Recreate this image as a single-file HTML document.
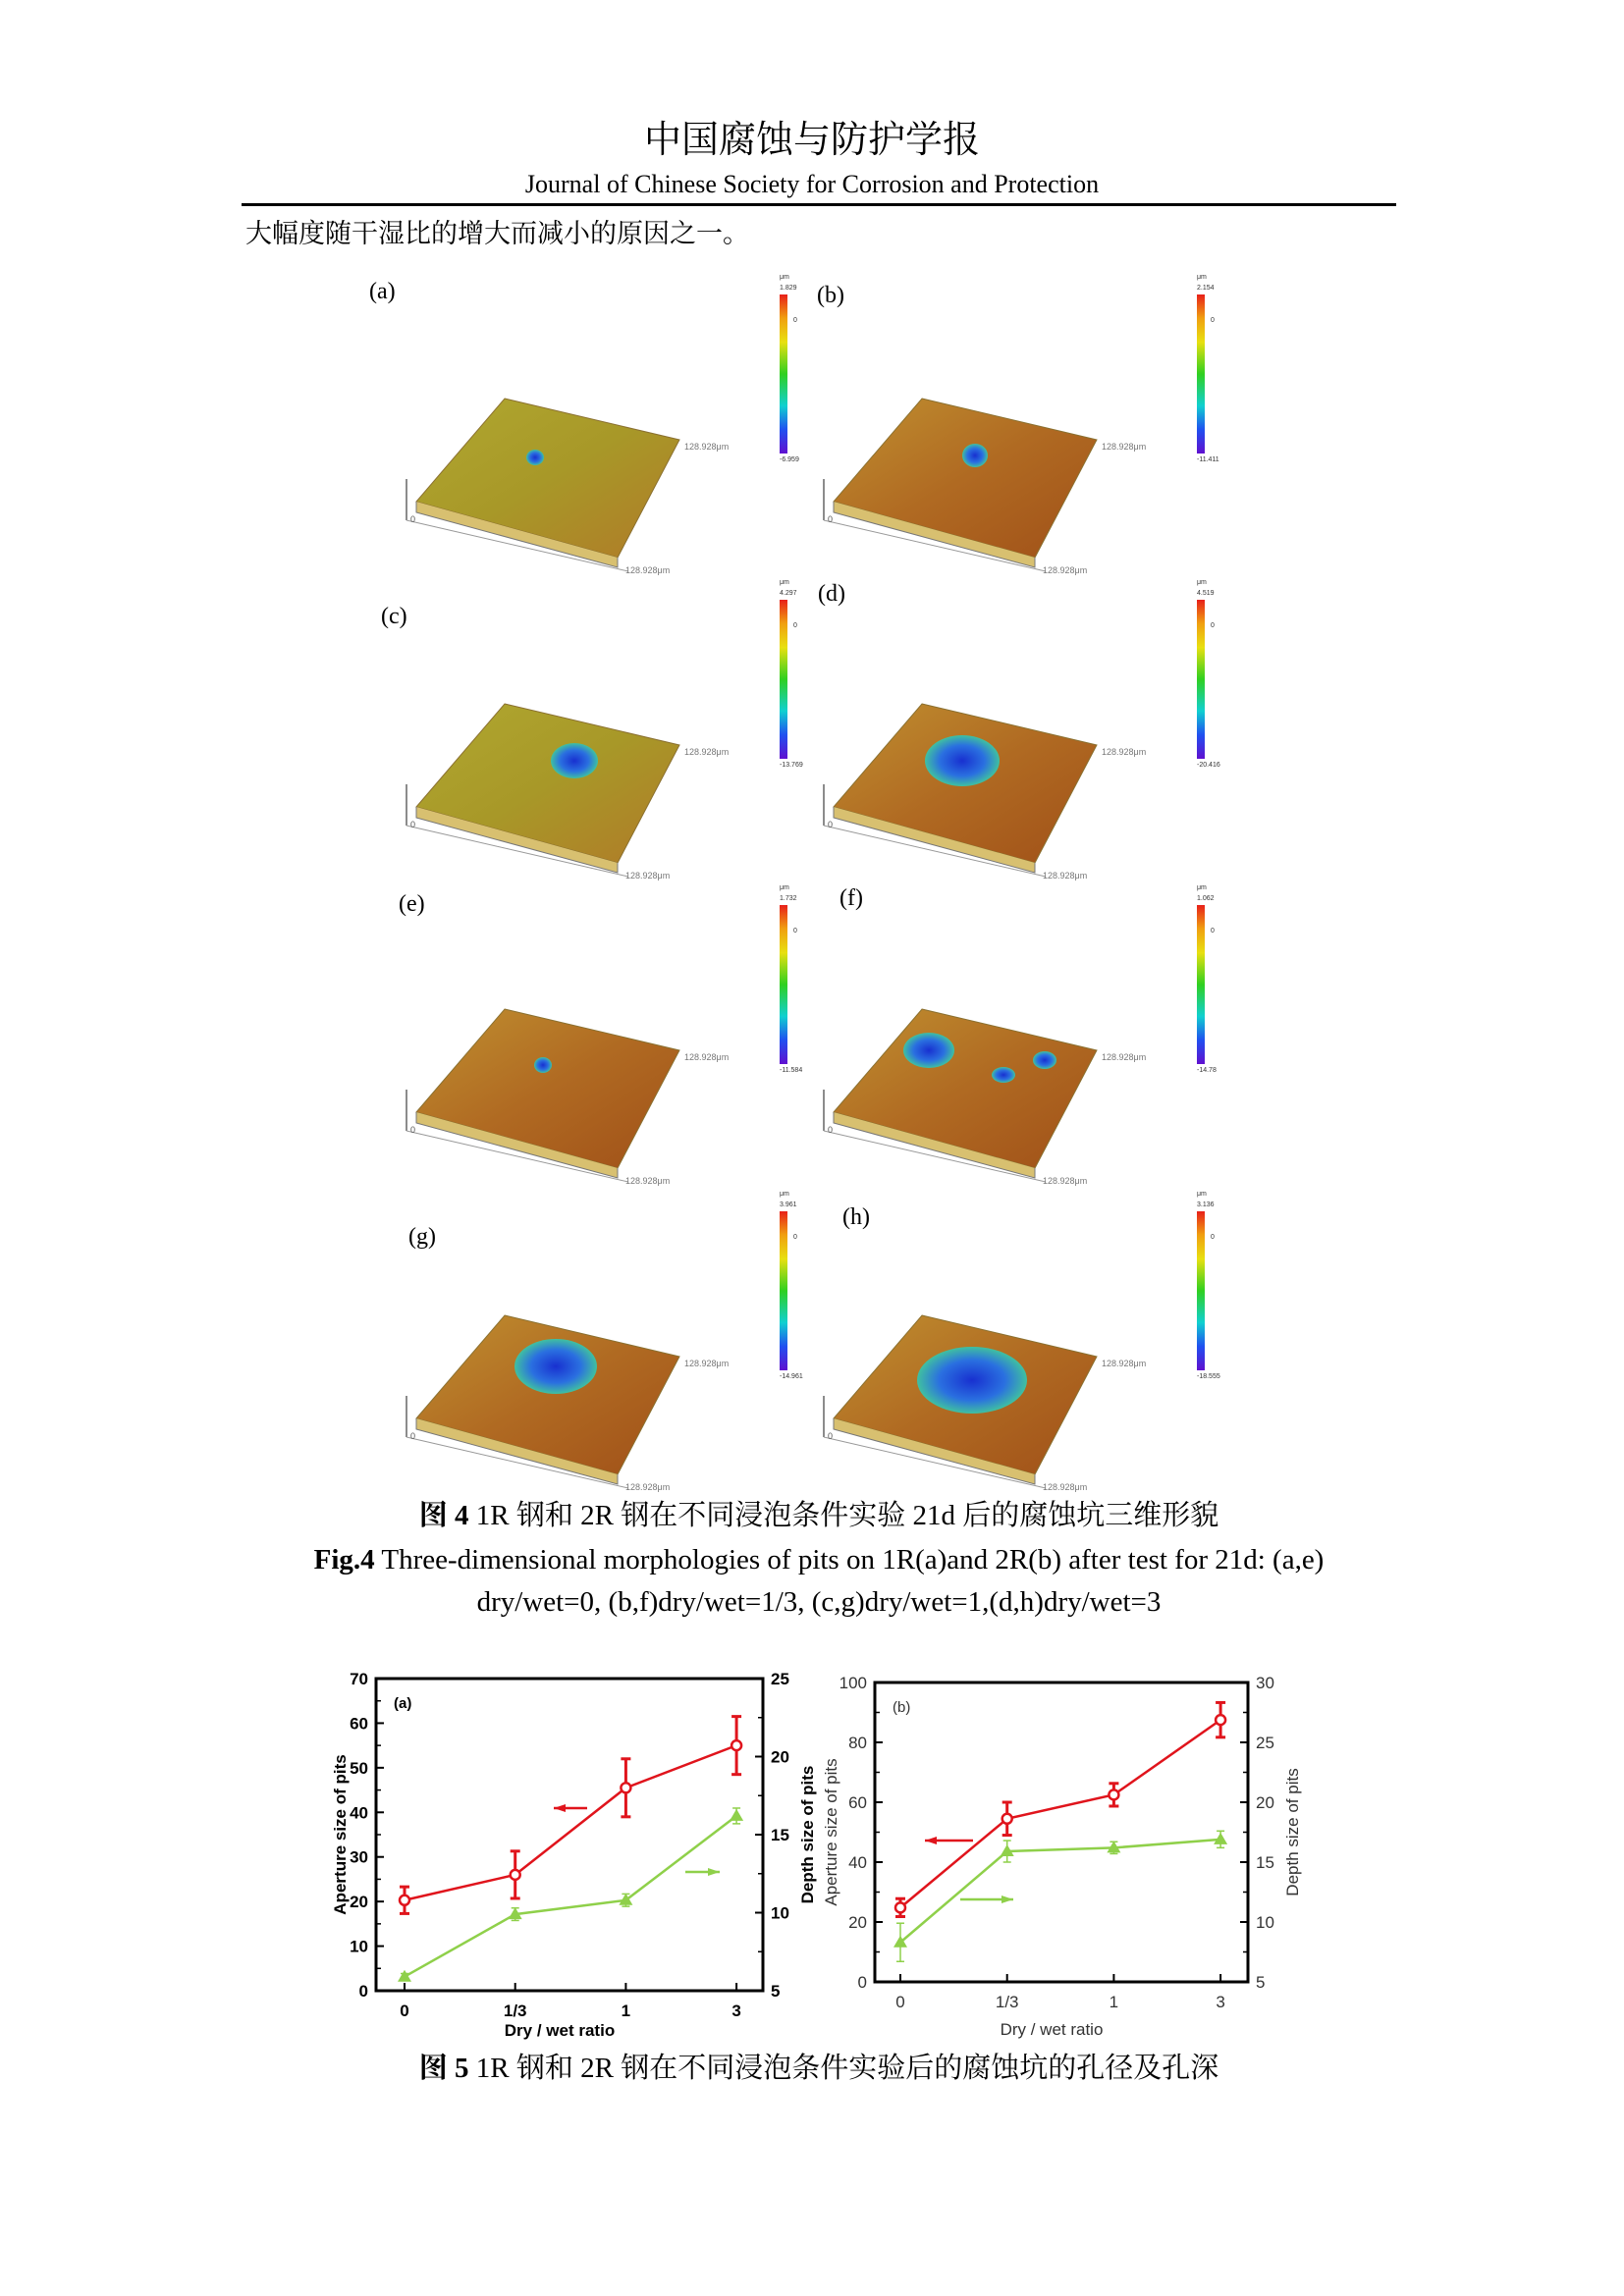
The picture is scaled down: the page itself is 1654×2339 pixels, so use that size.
<!DOCTYPE html>
<html><head><meta charset="utf-8">
<style>
html,body{margin:0;padding:0;background:#fff;}
svg{display:block;}
.serif{font-family:"Liberation Serif","Noto Serif CJK SC",serif;}
.sans{font-family:"Liberation Sans",sans-serif;}
</style></head>
<body>
<svg id="page" width="1654" height="2339" viewBox="0 0 1654 2339" xmlns="http://www.w3.org/2000/svg">
<defs>
<linearGradient id="cbar" x1="0" y1="0" x2="0" y2="1">
<stop offset="0" stop-color="#e8201a"/><stop offset="0.15" stop-color="#f0a010"/><stop offset="0.3" stop-color="#e8e010"/><stop offset="0.5" stop-color="#30d020"/><stop offset="0.7" stop-color="#10d0d0"/><stop offset="0.85" stop-color="#2050f0"/><stop offset="1" stop-color="#6010d0"/>
</linearGradient>
<linearGradient id="surfY" x1="0" y1="0" x2="1" y2="1">
<stop offset="0" stop-color="#b0a830"/><stop offset="0.5" stop-color="#a89828"/><stop offset="1" stop-color="#b07a28"/>
</linearGradient>
<linearGradient id="surfO" x1="0" y1="0" x2="1" y2="1">
<stop offset="0" stop-color="#c09030"/><stop offset="0.5" stop-color="#b06a22"/><stop offset="1" stop-color="#a05018"/>
</linearGradient>
<radialGradient id="pit"><stop offset="0" stop-color="#1830d0"/><stop offset="0.6" stop-color="#2a70e0"/><stop offset="1" stop-color="#40c0a0"/></radialGradient>
</defs>

<text class="serif" x="827" y="155" font-size="38" text-anchor="middle">中国腐蚀与防护学报</text>
<text class="serif" x="827" y="196" font-size="26" text-anchor="middle">Journal of Chinese Society for Corrosion and Protection</text>
<rect x="246" y="207" width="1176" height="3" fill="#000"/>
<text class="serif" x="250" y="247" font-size="27">大幅度随干湿比的增大而减小的原因之一。</text>

<g id="panels"></g>

<text class="serif" x="834" y="1553" font-size="29" text-anchor="middle"><tspan font-weight="bold">图 4</tspan> 1R 钢和 2R 钢在不同浸泡条件实验 21d 后的腐蚀坑三维形貌</text>
<text class="serif" x="834" y="1598" font-size="29" text-anchor="middle"><tspan font-weight="bold">Fig.4</tspan> Three-dimensional morphologies of pits on 1R(a)and 2R(b) after test for 21d: (a,e)</text>
<text class="serif" x="834" y="1641" font-size="29" text-anchor="middle">dry/wet=0, (b,f)dry/wet=1/3, (c,g)dry/wet=1,(d,h)dry/wet=3</text>

<g id="chartA"></g>
<g id="chartB"></g>

<text class="serif" x="834" y="2116" font-size="29" text-anchor="middle"><tspan font-weight="bold">图 5</tspan> 1R 钢和 2R 钢在不同浸泡条件实验后的腐蚀坑的孔径及孔深</text>
</svg>
<script>
const NS="http://www.w3.org/2000/svg";
function mk(parent,tag,attrs,text){const e=document.createElementNS(NS,tag);for(const k in attrs)e.setAttribute(k,attrs[k]);if(text!==undefined)e.textContent=text;parent.appendChild(e);return e;}

const panelLabels=["(a)","(b)","(c)","(d)","(e)","(f)","(g)","(h)"];
const cbTop=["1.829","2.154","4.297","4.519","1.732","1.062","3.961","3.136"];
const cbBot=["-6.959","-11.411","-13.769","-20.416","-11.584","-14.78","-14.961","-18.555"];
const panelsG=document.getElementById('panels');
const rowDY=[0,311,622,934];
const labPos=[[376,304],[832,308],[388,635],[833,612],[406,928],[855,922],[416,1267],[858,1247]];
const pits=[[[545,466,9,8]],[[993,464,13,12]],[[585,775,24,18]],[[980,775,38,26]],[[553,1085,9,8]],[[946,1070,26,18],[1064,1080,12,9],[1022,1095,12,8]],[[566,1392,42,28]],[[990,1406,56,34]]];
for(let i=0;i<8;i++){
  const col=i%2,row=Math.floor(i/2);
  const dx=col*425,dy=rowDY[row];
  const g=mk(panelsG,'g',{});
  
  
  const lab=mk(g,'text',{x:labPos[i][0],y:labPos[i][1],'font-size':24,class:'serif'},panelLabels[i]);
  
  
  const fill=(i===0||i===2)?'url(#surfY)':'url(#surfO)';
  const pts=[[514,406],[692,448],[629,568],[424,511]].map(p=>(p[0]+dx)+','+(p[1]+dy)).join(' ');
  mk(g,'polygon',{points:pts,fill:fill,stroke:'#8a7030','stroke-width':1});
  mk(g,'polyline',{points:`${424+dx},${511+dy} ${424+dx},${522+dy} ${629+dx},${578+dy} ${629+dx},${568+dy}`,fill:'#d8c070',stroke:'#777','stroke-width':1});
  mk(g,'line',{x1:414+dx,y1:488+dy,x2:414+dx,y2:530+dy,stroke:'#666','stroke-width':1.5});
  mk(g,'line',{x1:414+dx,y1:530+dy,x2:640+dx,y2:582+dy,stroke:'#999','stroke-width':1});
  mk(g,'text',{x:418+dx,y:532+dy,'font-size':9,fill:'#555',class:'sans'},'0');
  mk(g,'text',{x:697+dx,y:458+dy,'font-size':9,fill:'#777',class:'sans'},'128.928μm');
  mk(g,'text',{x:637+dx,y:584+dy,'font-size':9,fill:'#777',class:'sans'},'128.928μm');
  pits[i].forEach(p=>{const e=mk(g,'ellipse',{cx:p[0],cy:p[1],rx:p[2],ry:p[3],fill:'url(#pit)'});});
  const cb=mk(g,'rect',{x:794+dx,y:300+dy,width:8,height:162,fill:'url(#cbar)'});
  
  
  mk(g,'text',{x:794+dx,y:284+dy,'font-size':7,fill:'#333',class:'sans'},'μm');
  mk(g,'text',{x:794+dx,y:295+dy,'font-size':7,fill:'#333',class:'sans'},cbTop[i]);
  mk(g,'text',{x:808+dx,y:328+dy,'font-size':7,fill:'#333',class:'sans'},'0');
  mk(g,'text',{x:794+dx,y:470+dy,'font-size':7,fill:'#333',class:'sans'},cbBot[i]);
}

const categories=["0","1/3","1","3"];
const apertureA=[20.3,26,45.5,55];
const apertureErrA=[3,5.3,6.5,6.5];
const depthA=[5.9,9.9,10.8,16.2];
const depthErrA=[0.2,0.4,0.4,0.5];
const apertureB=[24.8,54.5,62.5,87.5];
const apertureErrB=[3,5.5,3.8,5.8];
const depthB=[8.3,15.9,16.2,16.9];
const depthErrB=[1.6,0.9,0.5,0.7];
const leftTicksA=[0,10,20,30,40,50,60,70];
const rightTicksA=[5,10,15,20,25];
const leftTicksB=[0,20,40,60,80,100];
const rightTicksB=[5,10,15,20,25,30];

function drawChart(gid,cfg){
  const g=document.getElementById(gid);
  const {L,R,T,B,lmin,lmax,rmin,rmax,xs,bold,tc,lTicks,rTicks,letter}=cfg;
  const yl=v=>B-(v-lmin)/(lmax-lmin)*(B-T);
  const yr=v=>B-(v-rmin)/(rmax-rmin)*(B-T);
  const xp=i=>xs[0]+i*(xs[1]-xs[0]);
  const fw=bold?'bold':'normal';
  const fr=mk(g,'rect',{x:L,y:T,width:R-L,height:B-T,fill:'none',stroke:'#000','stroke-width':3});
  
  
  lTicks.forEach(v=>{const y=yl(v);mk(g,'line',{x1:L,y1:y,x2:L+8,y2:y,stroke:'#000','stroke-width':2});
    const t=mk(g,'text',{x:L-8,y:y+6,'font-size':17,'text-anchor':'end','font-weight':fw,fill:tc,class:'sans'},v);
    
    if(v<lmax){const ym=yl(v+(lTicks[1]-lTicks[0])/2);mk(g,'line',{x1:L,y1:ym,x2:L+5,y2:ym,stroke:'#000','stroke-width':1.5});}});
  rTicks.forEach(v=>{const y=yr(v);mk(g,'line',{x1:R,y1:y,x2:R-8,y2:y,stroke:'#000','stroke-width':2});
    const t=mk(g,'text',{x:R+8,y:y+6,'font-size':17,'font-weight':fw,fill:tc,class:'sans'},v);
    
    if(v<rmax){const ym=yr(v+(rTicks[1]-rTicks[0])/2);mk(g,'line',{x1:R,y1:ym,x2:R-5,y2:ym,stroke:'#000','stroke-width':1.5});}});
  categories.forEach((c,i)=>{const x=xp(i);mk(g,'line',{x1:x,y1:B,x2:x,y2:B-8,stroke:'#000','stroke-width':2});
    const t=mk(g,'text',{x:x,y:B+cfg.xlOff,'font-size':17,'text-anchor':'middle','font-weight':fw,fill:tc,class:'sans'},c);
    });
  const xt=mk(g,'text',{x:(L+R)/2-10,y:cfg.xTitleY,'font-size':17,'text-anchor':'middle','font-weight':fw,fill:tc,class:'sans'},'Dry / wet ratio');
  
  const ylt=mk(g,'text',{x:0,y:0,'font-size':17,'text-anchor':'middle','font-weight':fw,fill:tc,class:'sans',transform:`translate(${cfg.ylX},${(T+B)/2}) rotate(-90)`},'Aperture size of pits');
  
  const yrt=mk(g,'text',{x:0,y:0,'font-size':17,'text-anchor':'middle','font-weight':fw,fill:tc,class:'sans',transform:`translate(${cfg.yrX},${(T+B)/2}) rotate(-90)`},'Depth size of pits');
  
  const lt=mk(g,'text',{x:L+18,y:T+30,'font-size':15,'font-weight':fw,fill:tc,class:'sans'},letter);
  
  const green='#8fd04a';
  const gl=mk(g,'polyline',{points:cfg.depth.map((v,i)=>xp(i)+','+yr(v)).join(' '),fill:'none',stroke:green,'stroke-width':2.5});
  
  cfg.depth.forEach((v,i)=>{const x=xp(i),e=cfg.depthErr[i];
    mk(g,'line',{x1:x,y1:yr(v-e),x2:x,y2:yr(v+e),stroke:green,'stroke-width':1.5});
    mk(g,'line',{x1:x-4,y1:yr(v-e),x2:x+4,y2:yr(v-e),stroke:green,'stroke-width':1.5});
    mk(g,'line',{x1:x-4,y1:yr(v+e),x2:x+4,y2:yr(v+e),stroke:green,'stroke-width':1.5});
    const y=yr(v);const m=mk(g,'polygon',{points:`${x},${y-7} ${x-7},${y+5} ${x+7},${y+5}`,fill:green});
    });
  const red='#e0141c';
  const rl=mk(g,'polyline',{points:cfg.aperture.map((v,i)=>xp(i)+','+yl(v)).join(' '),fill:'none',stroke:red,'stroke-width':2.5});
  
  cfg.aperture.forEach((v,i)=>{const x=xp(i),e=cfg.apertureErr[i];
    mk(g,'line',{x1:x,y1:yl(v-e),x2:x,y2:yl(v+e),stroke:red,'stroke-width':3});
    mk(g,'line',{x1:x-5,y1:yl(v-e),x2:x+5,y2:yl(v-e),stroke:red,'stroke-width':3});
    mk(g,'line',{x1:x-5,y1:yl(v+e),x2:x+5,y2:yl(v+e),stroke:red,'stroke-width':3});
    const m=mk(g,'circle',{cx:x,cy:yl(v),r:5,fill:'#fff',stroke:red,'stroke-width':2.5});
    });
  const a1=cfg.redArrow,a2=cfg.greenArrow;
  mk(g,'line',{x1:a1[0],y1:a1[2],x2:a1[1],y2:a1[2],stroke:red,'stroke-width':2.5});
  mk(g,'polygon',{points:`${a1[1]},${a1[2]} ${a1[1]+12},${a1[2]-4} ${a1[1]+12},${a1[2]+4}`,fill:red});
  mk(g,'line',{x1:a2[0],y1:a2[2],x2:a2[1],y2:a2[2],stroke:green,'stroke-width':2.5});
  mk(g,'polygon',{points:`${a2[1]},${a2[2]} ${a2[1]-12},${a2[2]-4} ${a2[1]-12},${a2[2]+4}`,fill:green});
}
drawChart('chartA',{L:383,R:777,T:1710,B:2028,lmin:0,lmax:70,rmin:5,rmax:25,xs:[412,524.7],bold:true,tc:'#000',
  lTicks:leftTicksA,rTicks:rightTicksA,letter:'(a)',aperture:apertureA,apertureErr:apertureErrA,depth:depthA,depthErr:depthErrA,
  xlOff:26,xTitleY:2074,ylX:352,yrX:828,redArrow:[598,564,1842],greenArrow:[698,733,1907]});
drawChart('chartB',{L:891,R:1271,T:1714,B:2019,lmin:0,lmax:100,rmin:5,rmax:30,xs:[917,1025.7],bold:false,tc:'#333',
  lTicks:leftTicksB,rTicks:rightTicksB,letter:'(b)',aperture:apertureB,apertureErr:apertureErrB,depth:depthB,depthErr:depthErrB,
  xlOff:26,xTitleY:2073,ylX:852,yrX:1322,redArrow:[991,942,1875],greenArrow:[978,1032,1935]});
</script>
</body></html>
